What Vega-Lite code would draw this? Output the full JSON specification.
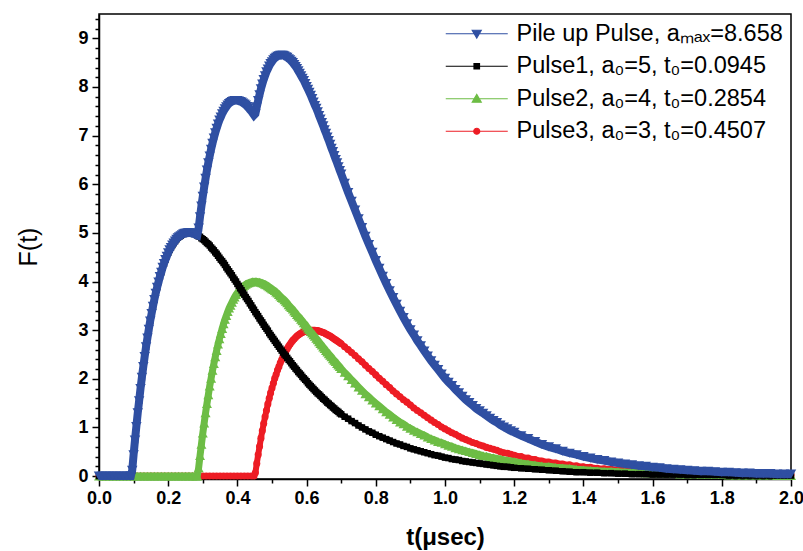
{
"$schema":"https://vega.github.io/schema/vega-lite/v6.json",
"width":692,"height":465,
"autosize":{"type":"none"},
"padding":{"left":99,"top":14,"right":12,"bottom":72},
"background":"white",
"config":{"view":{"stroke":"black","strokeWidth":1.5},"font":"Liberation Sans"},
"data":{"values":[
{"s":"P3","t":0,"v":0},{"s":"P3","t":0.01,"v":0},{"s":"P3","t":0.02,"v":0},{"s":"P3","t":0.03,"v":0},{"s":"P3","t":0.04,"v":0},{"s":"P3","t":0.05,"v":0},{"s":"P3","t":0.06,"v":0},{"s":"P3","t":0.07,"v":0},{"s":"P3","t":0.08,"v":0},{"s":"P3","t":0.09,"v":0},{"s":"P3","t":0.1,"v":0},{"s":"P3","t":0.11,"v":0},{"s":"P3","t":0.12,"v":0},{"s":"P3","t":0.13,"v":0},{"s":"P3","t":0.14,"v":0},{"s":"P3","t":0.15,"v":0},{"s":"P3","t":0.16,"v":0},{"s":"P3","t":0.17,"v":0},{"s":"P3","t":0.18,"v":0},{"s":"P3","t":0.19,"v":0},{"s":"P3","t":0.2,"v":0},{"s":"P3","t":0.21,"v":0},{"s":"P3","t":0.22,"v":0},{"s":"P3","t":0.23,"v":0},{"s":"P3","t":0.24,"v":0},{"s":"P3","t":0.25,"v":0},{"s":"P3","t":0.26,"v":0},{"s":"P3","t":0.27,"v":0},{"s":"P3","t":0.28,"v":0},{"s":"P3","t":0.29,"v":0},{"s":"P3","t":0.3,"v":0},{"s":"P3","t":0.31,"v":0},{"s":"P3","t":0.32,"v":0},{"s":"P3","t":0.33,"v":0},{"s":"P3","t":0.34,"v":0},{"s":"P3","t":0.35,"v":0},{"s":"P3","t":0.36,"v":0},{"s":"P3","t":0.37,"v":0},{"s":"P3","t":0.38,"v":0},{"s":"P3","t":0.39,"v":0},{"s":"P3","t":0.4,"v":0},{"s":"P3","t":0.41,"v":0},{"s":"P3","t":0.42,"v":0},{"s":"P3","t":0.43,"v":0},{"s":"P3","t":0.44,"v":0},{"s":"P3","t":0.448,"v":0},
{"s":"P3","t":0.452,"v":0.07},{"s":"P3","t":0.456,"v":0.26},{"s":"P3","t":0.46,"v":0.44},{"s":"P3","t":0.464,"v":0.61},{"s":"P3","t":0.468,"v":0.78},{"s":"P3","t":0.472,"v":0.93},{"s":"P3","t":0.476,"v":1.08},{"s":"P3","t":0.48,"v":1.22},{"s":"P3","t":0.484,"v":1.35},{"s":"P3","t":0.488,"v":1.48},{"s":"P3","t":0.492,"v":1.6},{"s":"P3","t":0.496,"v":1.71},{"s":"P3","t":0.5,"v":1.81},{"s":"P3","t":0.504,"v":1.91},{"s":"P3","t":0.508,"v":2.01},{"s":"P3","t":0.512,"v":2.09},{"s":"P3","t":0.516,"v":2.18},{"s":"P3","t":0.52,"v":2.25},{"s":"P3","t":0.524,"v":2.33},{"s":"P3","t":0.528,"v":2.39},{"s":"P3","t":0.532,"v":2.46},{"s":"P3","t":0.536,"v":2.52},{"s":"P3","t":0.54,"v":2.57},{"s":"P3","t":0.544,"v":2.62},{"s":"P3","t":0.548,"v":2.67},{"s":"P3","t":0.552,"v":2.71},{"s":"P3","t":0.556,"v":2.75},{"s":"P3","t":0.56,"v":2.79},{"s":"P3","t":0.564,"v":2.82},{"s":"P3","t":0.568,"v":2.85},{"s":"P3","t":0.572,"v":2.88},{"s":"P3","t":0.576,"v":2.9},{"s":"P3","t":0.58,"v":2.92},{"s":"P3","t":0.584,"v":2.94},{"s":"P3","t":0.588,"v":2.95},{"s":"P3","t":0.592,"v":2.97},{"s":"P3","t":0.596,"v":2.98},{"s":"P3","t":0.6,"v":2.99},{"s":"P3","t":0.604,"v":2.99},{"s":"P3","t":0.608,"v":3},{"s":"P3","t":0.612,"v":3},{"s":"P3","t":0.616,"v":3},{"s":"P3","t":0.62,"v":3},{"s":"P3","t":0.624,"v":3},{"s":"P3","t":0.628,"v":2.99},{"s":"P3","t":0.632,"v":2.99},{"s":"P3","t":0.636,"v":2.98},{"s":"P3","t":0.64,"v":2.97},{"s":"P3","t":0.644,"v":2.96},{"s":"P3","t":0.648,"v":2.95},{"s":"P3","t":0.652,"v":2.94},{"s":"P3","t":0.656,"v":2.92},{"s":"P3","t":0.66,"v":2.91},{"s":"P3","t":0.664,"v":2.89},{"s":"P3","t":0.668,"v":2.88},{"s":"P3","t":0.672,"v":2.86},{"s":"P3","t":0.676,"v":2.84},{"s":"P3","t":0.68,"v":2.82},{"s":"P3","t":0.684,"v":2.8},{"s":"P3","t":0.688,"v":2.78},{"s":"P3","t":0.692,"v":2.76},{"s":"P3","t":0.696,"v":2.74},
{"s":"P3","t":0.7,"v":2.72},{"s":"P3","t":0.71,"v":2.66},{"s":"P3","t":0.72,"v":2.6},{"s":"P3","t":0.73,"v":2.54},{"s":"P3","t":0.74,"v":2.48},{"s":"P3","t":0.75,"v":2.41},{"s":"P3","t":0.76,"v":2.35},{"s":"P3","t":0.77,"v":2.28},{"s":"P3","t":0.78,"v":2.21},{"s":"P3","t":0.79,"v":2.15},{"s":"P3","t":0.8,"v":2.08},{"s":"P3","t":0.81,"v":2.01},{"s":"P3","t":0.82,"v":1.95},{"s":"P3","t":0.83,"v":1.88},{"s":"P3","t":0.84,"v":1.82},{"s":"P3","t":0.85,"v":1.75},{"s":"P3","t":0.86,"v":1.69},{"s":"P3","t":0.87,"v":1.63},{"s":"P3","t":0.88,"v":1.57},{"s":"P3","t":0.89,"v":1.52},{"s":"P3","t":0.9,"v":1.46},{"s":"P3","t":0.91,"v":1.4},{"s":"P3","t":0.92,"v":1.35},{"s":"P3","t":0.93,"v":1.3},{"s":"P3","t":0.94,"v":1.25},{"s":"P3","t":0.95,"v":1.2},{"s":"P3","t":0.96,"v":1.15},{"s":"P3","t":0.97,"v":1.1},{"s":"P3","t":0.98,"v":1.06},{"s":"P3","t":0.99,"v":1.01},{"s":"P3","t":1.0,"v":0.97},{"s":"P3","t":1.01,"v":0.93},{"s":"P3","t":1.02,"v":0.89},{"s":"P3","t":1.03,"v":0.86},{"s":"P3","t":1.04,"v":0.82},{"s":"P3","t":1.05,"v":0.78},{"s":"P3","t":1.06,"v":0.75},{"s":"P3","t":1.07,"v":0.72},{"s":"P3","t":1.08,"v":0.69},{"s":"P3","t":1.09,"v":0.67},{"s":"P3","t":1.1,"v":0.64},{"s":"P3","t":1.11,"v":0.62},{"s":"P3","t":1.12,"v":0.59},{"s":"P3","t":1.13,"v":0.57},{"s":"P3","t":1.14,"v":0.55},{"s":"P3","t":1.15,"v":0.53},{"s":"P3","t":1.16,"v":0.5},{"s":"P3","t":1.17,"v":0.48},{"s":"P3","t":1.18,"v":0.47},{"s":"P3","t":1.19,"v":0.45},{"s":"P3","t":1.2,"v":0.43},{"s":"P3","t":1.22,"v":0.4},{"s":"P3","t":1.24,"v":0.37},{"s":"P3","t":1.26,"v":0.34},{"s":"P3","t":1.28,"v":0.31},{"s":"P3","t":1.3,"v":0.29},{"s":"P3","t":1.32,"v":0.27},{"s":"P3","t":1.34,"v":0.25},{"s":"P3","t":1.36,"v":0.23},{"s":"P3","t":1.38,"v":0.21},{"s":"P3","t":1.4,"v":0.19},{"s":"P3","t":1.42,"v":0.18},{"s":"P3","t":1.44,"v":0.16},{"s":"P3","t":1.46,"v":0.15},{"s":"P3","t":1.48,"v":0.14},{"s":"P3","t":1.5,"v":0.13},{"s":"P3","t":1.52,"v":0.12},{"s":"P3","t":1.54,"v":0.11},{"s":"P3","t":1.56,"v":0.1},{"s":"P3","t":1.58,"v":0.09},{"s":"P3","t":1.6,"v":0.09},{"s":"P3","t":1.62,"v":0.08},{"s":"P3","t":1.64,"v":0.07},{"s":"P3","t":1.66,"v":0.07},{"s":"P3","t":1.68,"v":0.06},{"s":"P3","t":1.7,"v":0.06},{"s":"P3","t":1.72,"v":0.05},{"s":"P3","t":1.74,"v":0.05},{"s":"P3","t":1.76,"v":0.05},{"s":"P3","t":1.78,"v":0.04},{"s":"P3","t":1.8,"v":0.04},{"s":"P3","t":1.82,"v":0.04},{"s":"P3","t":1.84,"v":0.03},{"s":"P3","t":1.86,"v":0.03},{"s":"P3","t":1.88,"v":0.03},{"s":"P3","t":1.9,"v":0.03},{"s":"P3","t":1.92,"v":0.02},{"s":"P3","t":1.94,"v":0.02},{"s":"P3","t":1.96,"v":0.02},{"s":"P3","t":1.98,"v":0.02},{"s":"P3","t":2.0,"v":0.02},
{"s":"P2","t":0,"v":0},{"s":"P2","t":0.01,"v":0},{"s":"P2","t":0.02,"v":0},{"s":"P2","t":0.03,"v":0},{"s":"P2","t":0.04,"v":0},{"s":"P2","t":0.05,"v":0},{"s":"P2","t":0.06,"v":0},{"s":"P2","t":0.07,"v":0},{"s":"P2","t":0.08,"v":0},{"s":"P2","t":0.09,"v":0},{"s":"P2","t":0.1,"v":0},{"s":"P2","t":0.11,"v":0},{"s":"P2","t":0.12,"v":0},{"s":"P2","t":0.13,"v":0},{"s":"P2","t":0.14,"v":0},{"s":"P2","t":0.15,"v":0},{"s":"P2","t":0.16,"v":0},{"s":"P2","t":0.17,"v":0},{"s":"P2","t":0.18,"v":0},{"s":"P2","t":0.19,"v":0},{"s":"P2","t":0.2,"v":0},{"s":"P2","t":0.21,"v":0},{"s":"P2","t":0.22,"v":0},{"s":"P2","t":0.23,"v":0},{"s":"P2","t":0.24,"v":0},{"s":"P2","t":0.25,"v":0},{"s":"P2","t":0.26,"v":0},{"s":"P2","t":0.27,"v":0},{"s":"P2","t":0.28,"v":0},{"s":"P2","t":0.284,"v":0},
{"s":"P2","t":0.288,"v":0.17},{"s":"P2","t":0.292,"v":0.42},{"s":"P2","t":0.296,"v":0.65},{"s":"P2","t":0.3,"v":0.88},{"s":"P2","t":0.304,"v":1.09},{"s":"P2","t":0.308,"v":1.3},{"s":"P2","t":0.312,"v":1.49},{"s":"P2","t":0.316,"v":1.67},{"s":"P2","t":0.32,"v":1.85},{"s":"P2","t":0.324,"v":2.01},{"s":"P2","t":0.328,"v":2.17},{"s":"P2","t":0.332,"v":2.31},{"s":"P2","t":0.336,"v":2.45},{"s":"P2","t":0.34,"v":2.58},{"s":"P2","t":0.344,"v":2.71},{"s":"P2","t":0.348,"v":2.82},{"s":"P2","t":0.352,"v":2.93},{"s":"P2","t":0.356,"v":3.03},{"s":"P2","t":0.36,"v":3.13},{"s":"P2","t":0.364,"v":3.22},{"s":"P2","t":0.368,"v":3.3},{"s":"P2","t":0.372,"v":3.38},{"s":"P2","t":0.376,"v":3.45},{"s":"P2","t":0.38,"v":3.51},{"s":"P2","t":0.384,"v":3.57},{"s":"P2","t":0.388,"v":3.63},{"s":"P2","t":0.392,"v":3.68},{"s":"P2","t":0.396,"v":3.73},{"s":"P2","t":0.4,"v":3.77},{"s":"P2","t":0.404,"v":3.81},{"s":"P2","t":0.408,"v":3.84},{"s":"P2","t":0.412,"v":3.87},{"s":"P2","t":0.416,"v":3.9},{"s":"P2","t":0.42,"v":3.92},{"s":"P2","t":0.424,"v":3.94},{"s":"P2","t":0.428,"v":3.96},{"s":"P2","t":0.432,"v":3.97},{"s":"P2","t":0.436,"v":3.98},{"s":"P2","t":0.44,"v":3.99},{"s":"P2","t":0.444,"v":4},{"s":"P2","t":0.448,"v":4},{"s":"P2","t":0.452,"v":4},{"s":"P2","t":0.456,"v":4},{"s":"P2","t":0.46,"v":3.99},{"s":"P2","t":0.464,"v":3.99},{"s":"P2","t":0.468,"v":3.98},{"s":"P2","t":0.472,"v":3.97},{"s":"P2","t":0.476,"v":3.96},{"s":"P2","t":0.48,"v":3.94},{"s":"P2","t":0.484,"v":3.93},{"s":"P2","t":0.488,"v":3.91},{"s":"P2","t":0.492,"v":3.89},{"s":"P2","t":0.496,"v":3.87},{"s":"P2","t":0.5,"v":3.85},{"s":"P2","t":0.504,"v":3.83},{"s":"P2","t":0.508,"v":3.81},{"s":"P2","t":0.512,"v":3.78},{"s":"P2","t":0.516,"v":3.76},{"s":"P2","t":0.52,"v":3.73},{"s":"P2","t":0.524,"v":3.7},{"s":"P2","t":0.528,"v":3.67},{"s":"P2","t":0.532,"v":3.65},{"s":"P2","t":0.536,"v":3.62},{"s":"P2","t":0.54,"v":3.59},{"s":"P2","t":0.544,"v":3.56},{"s":"P2","t":0.548,"v":3.52},{"s":"P2","t":0.552,"v":3.49},{"s":"P2","t":0.556,"v":3.46},{"s":"P2","t":0.56,"v":3.43},{"s":"P2","t":0.564,"v":3.39},{"s":"P2","t":0.568,"v":3.36},{"s":"P2","t":0.572,"v":3.32},{"s":"P2","t":0.576,"v":3.29},{"s":"P2","t":0.58,"v":3.26},{"s":"P2","t":0.584,"v":3.22},{"s":"P2","t":0.588,"v":3.19},{"s":"P2","t":0.592,"v":3.15},{"s":"P2","t":0.596,"v":3.12},{"s":"P2","t":0.6,"v":3.08},{"s":"P2","t":0.604,"v":3.04},{"s":"P2","t":0.608,"v":3.01},{"s":"P2","t":0.612,"v":2.97},{"s":"P2","t":0.616,"v":2.94},{"s":"P2","t":0.62,"v":2.9},{"s":"P2","t":0.624,"v":2.87},{"s":"P2","t":0.628,"v":2.83},{"s":"P2","t":0.632,"v":2.8},{"s":"P2","t":0.636,"v":2.76},{"s":"P2","t":0.64,"v":2.72},{"s":"P2","t":0.644,"v":2.69},{"s":"P2","t":0.648,"v":2.65},{"s":"P2","t":0.652,"v":2.62},{"s":"P2","t":0.656,"v":2.58},{"s":"P2","t":0.66,"v":2.55},{"s":"P2","t":0.664,"v":2.51},{"s":"P2","t":0.668,"v":2.48},{"s":"P2","t":0.672,"v":2.45},{"s":"P2","t":0.676,"v":2.41},{"s":"P2","t":0.68,"v":2.38},{"s":"P2","t":0.684,"v":2.35},{"s":"P2","t":0.688,"v":2.31},{"s":"P2","t":0.692,"v":2.28},{"s":"P2","t":0.696,"v":2.25},
{"s":"P2","t":0.7,"v":2.21},{"s":"P2","t":0.71,"v":2.13},{"s":"P2","t":0.72,"v":2.06},{"s":"P2","t":0.73,"v":1.98},{"s":"P2","t":0.74,"v":1.91},{"s":"P2","t":0.75,"v":1.83},{"s":"P2","t":0.76,"v":1.76},{"s":"P2","t":0.77,"v":1.69},{"s":"P2","t":0.78,"v":1.63},{"s":"P2","t":0.79,"v":1.56},{"s":"P2","t":0.8,"v":1.5},{"s":"P2","t":0.81,"v":1.44},{"s":"P2","t":0.82,"v":1.38},{"s":"P2","t":0.83,"v":1.32},{"s":"P2","t":0.84,"v":1.27},{"s":"P2","t":0.85,"v":1.21},{"s":"P2","t":0.86,"v":1.16},{"s":"P2","t":0.87,"v":1.11},{"s":"P2","t":0.88,"v":1.07},{"s":"P2","t":0.89,"v":1.02},{"s":"P2","t":0.9,"v":0.98},{"s":"P2","t":0.91,"v":0.94},{"s":"P2","t":0.92,"v":0.91},{"s":"P2","t":0.93,"v":0.87},{"s":"P2","t":0.94,"v":0.84},{"s":"P2","t":0.95,"v":0.8},{"s":"P2","t":0.96,"v":0.77},{"s":"P2","t":0.97,"v":0.74},{"s":"P2","t":0.98,"v":0.71},{"s":"P2","t":0.99,"v":0.69},{"s":"P2","t":1.0,"v":0.66},{"s":"P2","t":1.01,"v":0.63},{"s":"P2","t":1.02,"v":0.61},{"s":"P2","t":1.03,"v":0.58},{"s":"P2","t":1.04,"v":0.56},{"s":"P2","t":1.05,"v":0.54},{"s":"P2","t":1.06,"v":0.52},{"s":"P2","t":1.07,"v":0.5},{"s":"P2","t":1.08,"v":0.48},{"s":"P2","t":1.09,"v":0.46},{"s":"P2","t":1.1,"v":0.44},{"s":"P2","t":1.11,"v":0.42},{"s":"P2","t":1.12,"v":0.41},{"s":"P2","t":1.13,"v":0.39},{"s":"P2","t":1.14,"v":0.38},{"s":"P2","t":1.15,"v":0.36},{"s":"P2","t":1.16,"v":0.35},{"s":"P2","t":1.17,"v":0.33},{"s":"P2","t":1.18,"v":0.32},{"s":"P2","t":1.19,"v":0.31},{"s":"P2","t":1.2,"v":0.3},{"s":"P2","t":1.22,"v":0.27},{"s":"P2","t":1.24,"v":0.25},{"s":"P2","t":1.26,"v":0.23},{"s":"P2","t":1.28,"v":0.21},{"s":"P2","t":1.3,"v":0.2},{"s":"P2","t":1.32,"v":0.18},{"s":"P2","t":1.34,"v":0.17},{"s":"P2","t":1.36,"v":0.16},{"s":"P2","t":1.38,"v":0.14},{"s":"P2","t":1.4,"v":0.13},{"s":"P2","t":1.42,"v":0.12},{"s":"P2","t":1.44,"v":0.11},{"s":"P2","t":1.46,"v":0.1},{"s":"P2","t":1.48,"v":0.1},{"s":"P2","t":1.5,"v":0.09},{"s":"P2","t":1.52,"v":0.08},{"s":"P2","t":1.54,"v":0.08},{"s":"P2","t":1.56,"v":0.07},{"s":"P2","t":1.58,"v":0.06},{"s":"P2","t":1.6,"v":0.06},{"s":"P2","t":1.62,"v":0.06},{"s":"P2","t":1.64,"v":0.05},{"s":"P2","t":1.66,"v":0.05},{"s":"P2","t":1.68,"v":0.04},{"s":"P2","t":1.7,"v":0.04},{"s":"P2","t":1.72,"v":0.04},{"s":"P2","t":1.74,"v":0.03},{"s":"P2","t":1.76,"v":0.03},{"s":"P2","t":1.78,"v":0.03},{"s":"P2","t":1.8,"v":0.03},{"s":"P2","t":1.82,"v":0.02},{"s":"P2","t":1.84,"v":0.02},{"s":"P2","t":1.86,"v":0.02},{"s":"P2","t":1.88,"v":0.02},{"s":"P2","t":1.9,"v":0.02},{"s":"P2","t":1.92,"v":0.02},{"s":"P2","t":1.94,"v":0.02},{"s":"P2","t":1.96,"v":0.01},{"s":"P2","t":1.98,"v":0.01},{"s":"P2","t":2.0,"v":0.01},
{"s":"P1","t":0,"v":0},{"s":"P1","t":0.01,"v":0},{"s":"P1","t":0.02,"v":0},{"s":"P1","t":0.03,"v":0},{"s":"P1","t":0.04,"v":0},{"s":"P1","t":0.05,"v":0},{"s":"P1","t":0.06,"v":0},{"s":"P1","t":0.07,"v":0},{"s":"P1","t":0.08,"v":0},{"s":"P1","t":0.09,"v":0},{"s":"P1","t":0.092,"v":0},
{"s":"P1","t":0.096,"v":0.12},{"s":"P1","t":0.1,"v":0.44},{"s":"P1","t":0.104,"v":0.74},{"s":"P1","t":0.108,"v":1.02},{"s":"P1","t":0.112,"v":1.3},{"s":"P1","t":0.116,"v":1.55},{"s":"P1","t":0.12,"v":1.8},{"s":"P1","t":0.124,"v":2.03},{"s":"P1","t":0.128,"v":2.25},{"s":"P1","t":0.132,"v":2.46},{"s":"P1","t":0.136,"v":2.66},{"s":"P1","t":0.14,"v":2.84},{"s":"P1","t":0.144,"v":3.02},{"s":"P1","t":0.148,"v":3.19},{"s":"P1","t":0.152,"v":3.34},{"s":"P1","t":0.156,"v":3.49},{"s":"P1","t":0.16,"v":3.63},{"s":"P1","t":0.164,"v":3.76},{"s":"P1","t":0.168,"v":3.88},{"s":"P1","t":0.172,"v":3.99},{"s":"P1","t":0.176,"v":4.1},{"s":"P1","t":0.18,"v":4.19},{"s":"P1","t":0.184,"v":4.29},{"s":"P1","t":0.188,"v":4.37},{"s":"P1","t":0.192,"v":4.45},{"s":"P1","t":0.196,"v":4.52},{"s":"P1","t":0.2,"v":4.59},{"s":"P1","t":0.204,"v":4.65},{"s":"P1","t":0.208,"v":4.7},{"s":"P1","t":0.212,"v":4.75},{"s":"P1","t":0.216,"v":4.79},{"s":"P1","t":0.22,"v":4.83},{"s":"P1","t":0.224,"v":4.87},{"s":"P1","t":0.228,"v":4.9},{"s":"P1","t":0.232,"v":4.92},{"s":"P1","t":0.236,"v":4.94},{"s":"P1","t":0.24,"v":4.96},{"s":"P1","t":0.244,"v":4.98},{"s":"P1","t":0.248,"v":4.99},{"s":"P1","t":0.252,"v":4.99},{"s":"P1","t":0.256,"v":5},{"s":"P1","t":0.26,"v":5},{"s":"P1","t":0.264,"v":5},{"s":"P1","t":0.268,"v":4.99},{"s":"P1","t":0.272,"v":4.99},{"s":"P1","t":0.276,"v":4.98},{"s":"P1","t":0.28,"v":4.96},{"s":"P1","t":0.284,"v":4.95},{"s":"P1","t":0.288,"v":4.93},{"s":"P1","t":0.292,"v":4.92},{"s":"P1","t":0.296,"v":4.89},{"s":"P1","t":0.3,"v":4.87},{"s":"P1","t":0.304,"v":4.85},{"s":"P1","t":0.308,"v":4.82},{"s":"P1","t":0.312,"v":4.79},{"s":"P1","t":0.316,"v":4.77},{"s":"P1","t":0.32,"v":4.74},{"s":"P1","t":0.324,"v":4.7},{"s":"P1","t":0.328,"v":4.67},{"s":"P1","t":0.332,"v":4.64},{"s":"P1","t":0.336,"v":4.6},{"s":"P1","t":0.34,"v":4.57},{"s":"P1","t":0.344,"v":4.53},{"s":"P1","t":0.348,"v":4.49},{"s":"P1","t":0.352,"v":4.45},{"s":"P1","t":0.356,"v":4.42},{"s":"P1","t":0.36,"v":4.38},{"s":"P1","t":0.364,"v":4.34},{"s":"P1","t":0.368,"v":4.29},{"s":"P1","t":0.372,"v":4.25},{"s":"P1","t":0.376,"v":4.21},{"s":"P1","t":0.38,"v":4.17},{"s":"P1","t":0.384,"v":4.13},{"s":"P1","t":0.388,"v":4.08},{"s":"P1","t":0.392,"v":4.04},{"s":"P1","t":0.396,"v":4},{"s":"P1","t":0.4,"v":3.95},{"s":"P1","t":0.404,"v":3.91},{"s":"P1","t":0.408,"v":3.86},{"s":"P1","t":0.412,"v":3.82},{"s":"P1","t":0.416,"v":3.77},{"s":"P1","t":0.42,"v":3.73},{"s":"P1","t":0.424,"v":3.68},{"s":"P1","t":0.428,"v":3.64},{"s":"P1","t":0.432,"v":3.6},{"s":"P1","t":0.436,"v":3.55},{"s":"P1","t":0.44,"v":3.51},{"s":"P1","t":0.444,"v":3.46},{"s":"P1","t":0.448,"v":3.42},{"s":"P1","t":0.452,"v":3.37},{"s":"P1","t":0.456,"v":3.33},{"s":"P1","t":0.46,"v":3.29},{"s":"P1","t":0.464,"v":3.24},{"s":"P1","t":0.468,"v":3.2},{"s":"P1","t":0.472,"v":3.16},{"s":"P1","t":0.476,"v":3.11},{"s":"P1","t":0.48,"v":3.07},{"s":"P1","t":0.484,"v":3.03},{"s":"P1","t":0.488,"v":2.99},{"s":"P1","t":0.492,"v":2.94},{"s":"P1","t":0.496,"v":2.9},{"s":"P1","t":0.5,"v":2.86},{"s":"P1","t":0.504,"v":2.82},{"s":"P1","t":0.508,"v":2.78},{"s":"P1","t":0.512,"v":2.74},{"s":"P1","t":0.516,"v":2.7},{"s":"P1","t":0.52,"v":2.66},{"s":"P1","t":0.524,"v":2.62},{"s":"P1","t":0.528,"v":2.58},{"s":"P1","t":0.532,"v":2.54},{"s":"P1","t":0.536,"v":2.5},{"s":"P1","t":0.54,"v":2.47},{"s":"P1","t":0.544,"v":2.43},{"s":"P1","t":0.548,"v":2.39},{"s":"P1","t":0.552,"v":2.36},{"s":"P1","t":0.556,"v":2.32},{"s":"P1","t":0.56,"v":2.28},{"s":"P1","t":0.564,"v":2.25},{"s":"P1","t":0.568,"v":2.21},{"s":"P1","t":0.572,"v":2.18},{"s":"P1","t":0.576,"v":2.14},{"s":"P1","t":0.58,"v":2.11},{"s":"P1","t":0.584,"v":2.08},{"s":"P1","t":0.588,"v":2.04},{"s":"P1","t":0.592,"v":2.01},{"s":"P1","t":0.596,"v":1.98},{"s":"P1","t":0.6,"v":1.95},{"s":"P1","t":0.604,"v":1.91},{"s":"P1","t":0.608,"v":1.88},{"s":"P1","t":0.612,"v":1.85},{"s":"P1","t":0.616,"v":1.82},{"s":"P1","t":0.62,"v":1.79},{"s":"P1","t":0.624,"v":1.76},{"s":"P1","t":0.628,"v":1.73},{"s":"P1","t":0.632,"v":1.7},{"s":"P1","t":0.636,"v":1.68},{"s":"P1","t":0.64,"v":1.65},{"s":"P1","t":0.644,"v":1.62},{"s":"P1","t":0.648,"v":1.59},{"s":"P1","t":0.652,"v":1.57},{"s":"P1","t":0.656,"v":1.54},{"s":"P1","t":0.66,"v":1.51},{"s":"P1","t":0.664,"v":1.49},{"s":"P1","t":0.668,"v":1.46},{"s":"P1","t":0.672,"v":1.44},{"s":"P1","t":0.676,"v":1.41},{"s":"P1","t":0.68,"v":1.39},{"s":"P1","t":0.684,"v":1.36},{"s":"P1","t":0.688,"v":1.34},{"s":"P1","t":0.692,"v":1.32},{"s":"P1","t":0.696,"v":1.29},
{"s":"P1","t":0.7,"v":1.27},{"s":"P1","t":0.71,"v":1.22},{"s":"P1","t":0.72,"v":1.18},{"s":"P1","t":0.73,"v":1.13},{"s":"P1","t":0.74,"v":1.09},{"s":"P1","t":0.75,"v":1.04},{"s":"P1","t":0.76,"v":1.0},{"s":"P1","t":0.77,"v":0.96},{"s":"P1","t":0.78,"v":0.92},{"s":"P1","t":0.79,"v":0.89},{"s":"P1","t":0.8,"v":0.85},{"s":"P1","t":0.81,"v":0.82},{"s":"P1","t":0.82,"v":0.79},{"s":"P1","t":0.83,"v":0.76},{"s":"P1","t":0.84,"v":0.73},{"s":"P1","t":0.85,"v":0.7},{"s":"P1","t":0.86,"v":0.67},{"s":"P1","t":0.87,"v":0.65},{"s":"P1","t":0.88,"v":0.62},{"s":"P1","t":0.89,"v":0.6},{"s":"P1","t":0.9,"v":0.57},{"s":"P1","t":0.91,"v":0.55},{"s":"P1","t":0.92,"v":0.53},{"s":"P1","t":0.93,"v":0.51},{"s":"P1","t":0.94,"v":0.49},{"s":"P1","t":0.95,"v":0.47},{"s":"P1","t":0.96,"v":0.45},{"s":"P1","t":0.97,"v":0.43},{"s":"P1","t":0.98,"v":0.42},{"s":"P1","t":0.99,"v":0.4},{"s":"P1","t":1.0,"v":0.38},{"s":"P1","t":1.01,"v":0.37},{"s":"P1","t":1.02,"v":0.35},{"s":"P1","t":1.03,"v":0.34},{"s":"P1","t":1.04,"v":0.33},{"s":"P1","t":1.05,"v":0.31},{"s":"P1","t":1.06,"v":0.3},{"s":"P1","t":1.07,"v":0.29},{"s":"P1","t":1.08,"v":0.28},{"s":"P1","t":1.09,"v":0.27},{"s":"P1","t":1.1,"v":0.26},{"s":"P1","t":1.11,"v":0.25},{"s":"P1","t":1.12,"v":0.24},{"s":"P1","t":1.13,"v":0.23},{"s":"P1","t":1.14,"v":0.22},{"s":"P1","t":1.15,"v":0.21},{"s":"P1","t":1.16,"v":0.2},{"s":"P1","t":1.17,"v":0.19},{"s":"P1","t":1.18,"v":0.19},{"s":"P1","t":1.19,"v":0.18},{"s":"P1","t":1.2,"v":0.17},{"s":"P1","t":1.22,"v":0.16},{"s":"P1","t":1.24,"v":0.15},{"s":"P1","t":1.26,"v":0.14},{"s":"P1","t":1.28,"v":0.13},{"s":"P1","t":1.3,"v":0.12},{"s":"P1","t":1.32,"v":0.11},{"s":"P1","t":1.34,"v":0.1},{"s":"P1","t":1.36,"v":0.09},{"s":"P1","t":1.38,"v":0.08},{"s":"P1","t":1.4,"v":0.08},{"s":"P1","t":1.42,"v":0.07},{"s":"P1","t":1.44,"v":0.07},{"s":"P1","t":1.46,"v":0.06},{"s":"P1","t":1.48,"v":0.06},{"s":"P1","t":1.5,"v":0.05},{"s":"P1","t":1.52,"v":0.05},{"s":"P1","t":1.54,"v":0.04},{"s":"P1","t":1.56,"v":0.04},{"s":"P1","t":1.58,"v":0.04},{"s":"P1","t":1.6,"v":0.03},{"s":"P1","t":1.62,"v":0.03},{"s":"P1","t":1.64,"v":0.03},{"s":"P1","t":1.66,"v":0.03},{"s":"P1","t":1.68,"v":0.03},{"s":"P1","t":1.7,"v":0.02},{"s":"P1","t":1.72,"v":0.02},{"s":"P1","t":1.74,"v":0.02},{"s":"P1","t":1.76,"v":0.02},{"s":"P1","t":1.78,"v":0.02},{"s":"P1","t":1.8,"v":0.02},{"s":"P1","t":1.82,"v":0.01},{"s":"P1","t":1.84,"v":0.01},{"s":"P1","t":1.86,"v":0.01},{"s":"P1","t":1.88,"v":0.01},{"s":"P1","t":1.9,"v":0.01},{"s":"P1","t":1.92,"v":0.01},{"s":"P1","t":1.94,"v":0.01},{"s":"P1","t":1.96,"v":0.01},{"s":"P1","t":1.98,"v":0.01},{"s":"P1","t":2.0,"v":0.01},
{"s":"P","t":0,"v":0},{"s":"P","t":0.01,"v":0},{"s":"P","t":0.02,"v":0},{"s":"P","t":0.03,"v":0},{"s":"P","t":0.04,"v":0},{"s":"P","t":0.05,"v":0},{"s":"P","t":0.06,"v":0},{"s":"P","t":0.07,"v":0},{"s":"P","t":0.08,"v":0},{"s":"P","t":0.09,"v":0},{"s":"P","t":0.092,"v":0},
{"s":"P","t":0.096,"v":0.12},{"s":"P","t":0.1,"v":0.44},{"s":"P","t":0.104,"v":0.74},{"s":"P","t":0.108,"v":1.02},{"s":"P","t":0.112,"v":1.3},{"s":"P","t":0.116,"v":1.55},{"s":"P","t":0.12,"v":1.8},{"s":"P","t":0.124,"v":2.03},{"s":"P","t":0.128,"v":2.25},{"s":"P","t":0.132,"v":2.46},{"s":"P","t":0.136,"v":2.66},{"s":"P","t":0.14,"v":2.84},{"s":"P","t":0.144,"v":3.02},{"s":"P","t":0.148,"v":3.19},{"s":"P","t":0.152,"v":3.34},{"s":"P","t":0.156,"v":3.49},{"s":"P","t":0.16,"v":3.63},{"s":"P","t":0.164,"v":3.76},{"s":"P","t":0.168,"v":3.88},{"s":"P","t":0.172,"v":3.99},{"s":"P","t":0.176,"v":4.1},{"s":"P","t":0.18,"v":4.19},{"s":"P","t":0.184,"v":4.29},{"s":"P","t":0.188,"v":4.37},{"s":"P","t":0.192,"v":4.45},{"s":"P","t":0.196,"v":4.52},{"s":"P","t":0.2,"v":4.59},{"s":"P","t":0.204,"v":4.65},{"s":"P","t":0.208,"v":4.7},{"s":"P","t":0.212,"v":4.75},{"s":"P","t":0.216,"v":4.79},{"s":"P","t":0.22,"v":4.83},{"s":"P","t":0.224,"v":4.87},{"s":"P","t":0.228,"v":4.9},{"s":"P","t":0.232,"v":4.92},{"s":"P","t":0.236,"v":4.94},{"s":"P","t":0.24,"v":4.96},{"s":"P","t":0.244,"v":4.98},{"s":"P","t":0.248,"v":4.99},{"s":"P","t":0.252,"v":4.99},{"s":"P","t":0.256,"v":5},{"s":"P","t":0.26,"v":5},{"s":"P","t":0.264,"v":5},{"s":"P","t":0.268,"v":4.99},{"s":"P","t":0.272,"v":4.99},{"s":"P","t":0.276,"v":4.98},{"s":"P","t":0.28,"v":4.96},{"s":"P","t":0.284,"v":4.95},
{"s":"P","t":0.288,"v":5.1},{"s":"P","t":0.292,"v":5.33},{"s":"P","t":0.296,"v":5.55},{"s":"P","t":0.3,"v":5.75},{"s":"P","t":0.304,"v":5.94},{"s":"P","t":0.308,"v":6.12},{"s":"P","t":0.312,"v":6.29},{"s":"P","t":0.316,"v":6.44},{"s":"P","t":0.32,"v":6.58},{"s":"P","t":0.324,"v":6.72},{"s":"P","t":0.328,"v":6.84},{"s":"P","t":0.332,"v":6.95},{"s":"P","t":0.336,"v":7.06},{"s":"P","t":0.34,"v":7.15},{"s":"P","t":0.344,"v":7.24},{"s":"P","t":0.348,"v":7.32},{"s":"P","t":0.352,"v":7.38},{"s":"P","t":0.356,"v":7.45},{"s":"P","t":0.36,"v":7.5},{"s":"P","t":0.364,"v":7.55},{"s":"P","t":0.368,"v":7.59},{"s":"P","t":0.372,"v":7.63},{"s":"P","t":0.376,"v":7.66},{"s":"P","t":0.38,"v":7.68},{"s":"P","t":0.384,"v":7.7},{"s":"P","t":0.388,"v":7.71},{"s":"P","t":0.392,"v":7.72},{"s":"P","t":0.396,"v":7.72},{"s":"P","t":0.4,"v":7.72},{"s":"P","t":0.404,"v":7.71},{"s":"P","t":0.408,"v":7.7},{"s":"P","t":0.412,"v":7.69},{"s":"P","t":0.416,"v":7.67},{"s":"P","t":0.42,"v":7.65},{"s":"P","t":0.424,"v":7.63},{"s":"P","t":0.428,"v":7.6},{"s":"P","t":0.432,"v":7.57},{"s":"P","t":0.436,"v":7.53},{"s":"P","t":0.44,"v":7.5},{"s":"P","t":0.444,"v":7.46},{"s":"P","t":0.448,"v":7.42},{"s":"P","t":0.452,"v":7.45},{"s":"P","t":0.456,"v":7.59},{"s":"P","t":0.46,"v":7.72},{"s":"P","t":0.464,"v":7.84},{"s":"P","t":0.468,"v":7.96},{"s":"P","t":0.472,"v":8.06},{"s":"P","t":0.476,"v":8.15},{"s":"P","t":0.48,"v":8.23},{"s":"P","t":0.484,"v":8.31},{"s":"P","t":0.488,"v":8.37},{"s":"P","t":0.492,"v":8.43},{"s":"P","t":0.496,"v":8.48},{"s":"P","t":0.5,"v":8.52},{"s":"P","t":0.504,"v":8.56},{"s":"P","t":0.508,"v":8.59},{"s":"P","t":0.512,"v":8.61},{"s":"P","t":0.516,"v":8.63},{"s":"P","t":0.52,"v":8.64},{"s":"P","t":0.524,"v":8.65},{"s":"P","t":0.528,"v":8.65},{"s":"P","t":0.532,"v":8.65},{"s":"P","t":0.536,"v":8.64},{"s":"P","t":0.54,"v":8.62},{"s":"P","t":0.544,"v":8.61},{"s":"P","t":0.548,"v":8.58},{"s":"P","t":0.552,"v":8.56},{"s":"P","t":0.556,"v":8.53},{"s":"P","t":0.56,"v":8.5},{"s":"P","t":0.564,"v":8.46},{"s":"P","t":0.568,"v":8.42},{"s":"P","t":0.572,"v":8.38},{"s":"P","t":0.576,"v":8.33},{"s":"P","t":0.58,"v":8.28},{"s":"P","t":0.584,"v":8.23},{"s":"P","t":0.588,"v":8.18},{"s":"P","t":0.592,"v":8.13},{"s":"P","t":0.596,"v":8.07},{"s":"P","t":0.6,"v":8.01},{"s":"P","t":0.604,"v":7.95},{"s":"P","t":0.608,"v":7.89},{"s":"P","t":0.612,"v":7.83},{"s":"P","t":0.616,"v":7.76},{"s":"P","t":0.62,"v":7.69},{"s":"P","t":0.624,"v":7.62},{"s":"P","t":0.628,"v":7.56},{"s":"P","t":0.632,"v":7.49},{"s":"P","t":0.636,"v":7.41},{"s":"P","t":0.64,"v":7.34},{"s":"P","t":0.644,"v":7.27},{"s":"P","t":0.648,"v":7.2},{"s":"P","t":0.652,"v":7.12},{"s":"P","t":0.656,"v":7.05},{"s":"P","t":0.66,"v":6.97},{"s":"P","t":0.664,"v":6.9},{"s":"P","t":0.668,"v":6.82},{"s":"P","t":0.672,"v":6.74},{"s":"P","t":0.676,"v":6.67},{"s":"P","t":0.68,"v":6.59},{"s":"P","t":0.684,"v":6.51},{"s":"P","t":0.688,"v":6.44},{"s":"P","t":0.692,"v":6.36},{"s":"P","t":0.696,"v":6.28},
{"s":"P","t":0.7,"v":6.21},{"s":"P","t":0.71,"v":6.02},{"s":"P","t":0.72,"v":5.83},{"s":"P","t":0.73,"v":5.65},{"s":"P","t":0.74,"v":5.47},{"s":"P","t":0.75,"v":5.29},{"s":"P","t":0.76,"v":5.11},{"s":"P","t":0.77,"v":4.93},{"s":"P","t":0.78,"v":4.76},{"s":"P","t":0.79,"v":4.6},{"s":"P","t":0.8,"v":4.43},{"s":"P","t":0.81,"v":4.27},{"s":"P","t":0.82,"v":4.11},{"s":"P","t":0.83,"v":3.96},{"s":"P","t":0.84,"v":3.81},{"s":"P","t":0.85,"v":3.67},{"s":"P","t":0.86,"v":3.53},{"s":"P","t":0.87,"v":3.39},{"s":"P","t":0.88,"v":3.26},{"s":"P","t":0.89,"v":3.13},{"s":"P","t":0.9,"v":3.01},{"s":"P","t":0.91,"v":2.9},{"s":"P","t":0.92,"v":2.78},{"s":"P","t":0.93,"v":2.68},{"s":"P","t":0.94,"v":2.57},{"s":"P","t":0.95,"v":2.47},{"s":"P","t":0.96,"v":2.37},{"s":"P","t":0.97,"v":2.28},{"s":"P","t":0.98,"v":2.19},{"s":"P","t":0.99,"v":2.1},{"s":"P","t":1.0,"v":2.01},{"s":"P","t":1.01,"v":1.93},{"s":"P","t":1.02,"v":1.86},{"s":"P","t":1.03,"v":1.78},{"s":"P","t":1.04,"v":1.71},{"s":"P","t":1.05,"v":1.64},{"s":"P","t":1.06,"v":1.57},{"s":"P","t":1.07,"v":1.51},{"s":"P","t":1.08,"v":1.45},{"s":"P","t":1.09,"v":1.39},{"s":"P","t":1.1,"v":1.34},{"s":"P","t":1.11,"v":1.29},{"s":"P","t":1.12,"v":1.24},{"s":"P","t":1.13,"v":1.19},{"s":"P","t":1.14,"v":1.14},{"s":"P","t":1.15,"v":1.1},{"s":"P","t":1.16,"v":1.05},{"s":"P","t":1.17,"v":1.01},{"s":"P","t":1.18,"v":0.97},{"s":"P","t":1.19,"v":0.93},{"s":"P","t":1.2,"v":0.9},{"s":"P","t":1.22,"v":0.83},{"s":"P","t":1.24,"v":0.77},{"s":"P","t":1.26,"v":0.71},{"s":"P","t":1.28,"v":0.65},{"s":"P","t":1.3,"v":0.6},{"s":"P","t":1.32,"v":0.56},{"s":"P","t":1.34,"v":0.51},{"s":"P","t":1.36,"v":0.47},{"s":"P","t":1.38,"v":0.44},{"s":"P","t":1.4,"v":0.4},{"s":"P","t":1.42,"v":0.37},{"s":"P","t":1.44,"v":0.34},{"s":"P","t":1.46,"v":0.32},{"s":"P","t":1.48,"v":0.29},{"s":"P","t":1.5,"v":0.27},{"s":"P","t":1.52,"v":0.25},{"s":"P","t":1.54,"v":0.23},{"s":"P","t":1.56,"v":0.21},{"s":"P","t":1.58,"v":0.2},{"s":"P","t":1.6,"v":0.18},{"s":"P","t":1.62,"v":0.17},{"s":"P","t":1.64,"v":0.15},{"s":"P","t":1.66,"v":0.14},{"s":"P","t":1.68,"v":0.13},{"s":"P","t":1.7,"v":0.12},{"s":"P","t":1.72,"v":0.11},{"s":"P","t":1.74,"v":0.1},{"s":"P","t":1.76,"v":0.1},{"s":"P","t":1.78,"v":0.09},{"s":"P","t":1.8,"v":0.08},{"s":"P","t":1.82,"v":0.08},{"s":"P","t":1.84,"v":0.07},{"s":"P","t":1.86,"v":0.06},{"s":"P","t":1.88,"v":0.06},{"s":"P","t":1.9,"v":0.05},{"s":"P","t":1.92,"v":0.05},{"s":"P","t":1.94,"v":0.05},{"s":"P","t":1.96,"v":0.04},{"s":"P","t":1.98,"v":0.04},{"s":"P","t":2.0,"v":0.04}
]},
"encoding":{
 "x":{"field":"t","type":"quantitative","title":"t(μsec)",
  "scale":{"domain":[0,2],"nice":false,"zero":false},
  "axis":{"values":[0,0.1,0.2,0.3,0.4,0.5,0.6,0.7,0.8,0.9,1,1.1,1.2,1.3,1.4,1.5,1.6,1.7,1.8,1.9,2],
   "labelExpr":"abs(datum.value*5-round(datum.value*5))<0.001 ? format(datum.value,'.1f') : ''",
   "tickSize":{"condition":{"test":"abs(datum.value*5-round(datum.value*5))<0.001","value":7},"value":4},
   "grid":false,"domainColor":"black","domainWidth":1.5,"tickColor":"black","tickWidth":1.5,
   "labelFont":"Liberation Sans","labelFontSize":18,"labelFontWeight":"bold","labelColor":"black","labelPadding":3,"labelOverlap":false,"labelFlush":false,
   "titleFont":"Liberation Sans","titleFontSize":24,"titleFontWeight":"bold","titleColor":"black","titlePadding":18}},
 "y":{"field":"v","type":"quantitative","title":"F(t)",
  "scale":{"domain":[-0.06,9.5],"nice":false,"zero":false},
  "axis":{"values":[0,0.2,0.4,0.6,0.8,1,1.2,1.4,1.6,1.8,2,2.2,2.4,2.6,2.8,3,3.2,3.4,3.6,3.8,4,4.2,4.4,4.6,4.8,5,5.2,5.4,5.6,5.8,6,6.2,6.4,6.6,6.8,7,7.2,7.4,7.6,7.8,8,8.2,8.4,8.6,8.8,9,9.2,9.4],
   "labelExpr":"abs(datum.value-round(datum.value))<0.001 ? format(datum.value,'.0f') : ''",
   "tickSize":{"condition":{"test":"abs(datum.value-round(datum.value))<0.001","value":7},"value":4},
   "grid":false,"domainColor":"black","domainWidth":1.5,"tickColor":"black","tickWidth":1.5,
   "labelFont":"Liberation Sans","labelFontSize":18,"labelFontWeight":"bold","labelColor":"black","labelPadding":4,"labelOverlap":false,"labelFlush":false,
   "titleFont":"Liberation Sans","titleFontSize":25,"titleFontWeight":"normal","titleColor":"black","titlePadding":36}},
 "color":{"field":"s","type":"nominal",
  "scale":{"domain":["P","P1","P2","P3"],"range":["#2F4FA2","#000000","#6DBD45","#ED1C24"]},
  "legend":{"orient":"top-right","offset":8,"title":null,"padding":0,
   "labelFont":"Liberation Sans","labelFontSize":23.5,"labelColor":"black","labelLimit":400,
   "labelExpr":"datum.value=='P' ? 'Pile up Pulse, aₘₐₓ=8.658' : datum.value=='P1' ? 'Pulse1, a₀=5, t₀=0.0945' : datum.value=='P2' ? 'Pulse2, a₀=4, t₀=0.2854' : 'Pulse3, a₀=3, t₀=0.4507'",
   "symbolSize":100,"symbolStrokeWidth":1.2,"labelOffset":28,"rowPadding":7.5,
   "encode":{"symbols":{"update":{
     "shape":{"signal":"datum.value=='P' ? 'M-6.2,0H6.2M-0.9,-0.7H0.9L0,0.85Z' : datum.value=='P1' ? 'M-6.2,0H6.2M-0.55,-0.55H0.55V0.55H-0.55Z' : datum.value=='P2' ? 'M-6.2,0H6.2M-0.9,0.7H0.9L0,-0.85Z' : 'M-6.2,0H6.2M0.6,0A0.6,0.6,0,1,1,-0.6,0A0.6,0.6,0,1,1,0.6,0Z'"},
     "stroke":{"signal":"scale('color', datum.value)"},
     "fill":{"signal":"scale('color', datum.value)"},
     "strokeWidth":{"value":1.2},
     "opacity":{"value":1}}}}}}
},
"layer":[
 {"transform":[{"filter":"datum.s=='P3'"}],"layer":[
   {"mark":{"type":"line","strokeWidth":6}},
   {"mark":{"type":"point","shape":"circle","size":50,"filled":true,"opacity":1,"strokeWidth":0}}]},
 {"transform":[{"filter":"datum.s=='P2'"}],"layer":[
   {"mark":{"type":"line","strokeWidth":7}},
   {"mark":{"type":"point","shape":"triangle-up","size":100,"filled":true,"opacity":1,"strokeWidth":0}}]},
 {"transform":[{"filter":"datum.s=='P1'"}],"layer":[
   {"mark":{"type":"line","strokeWidth":6}},
   {"mark":{"type":"point","shape":"square","size":42,"filled":true,"opacity":1,"strokeWidth":0}}]},
 {"transform":[{"filter":"datum.s=='P'"}],"layer":[
   {"mark":{"type":"line","strokeWidth":8}},
   {"mark":{"type":"point","shape":"triangle-down","size":110,"filled":true,"opacity":1,"strokeWidth":0}}]}
]
}
